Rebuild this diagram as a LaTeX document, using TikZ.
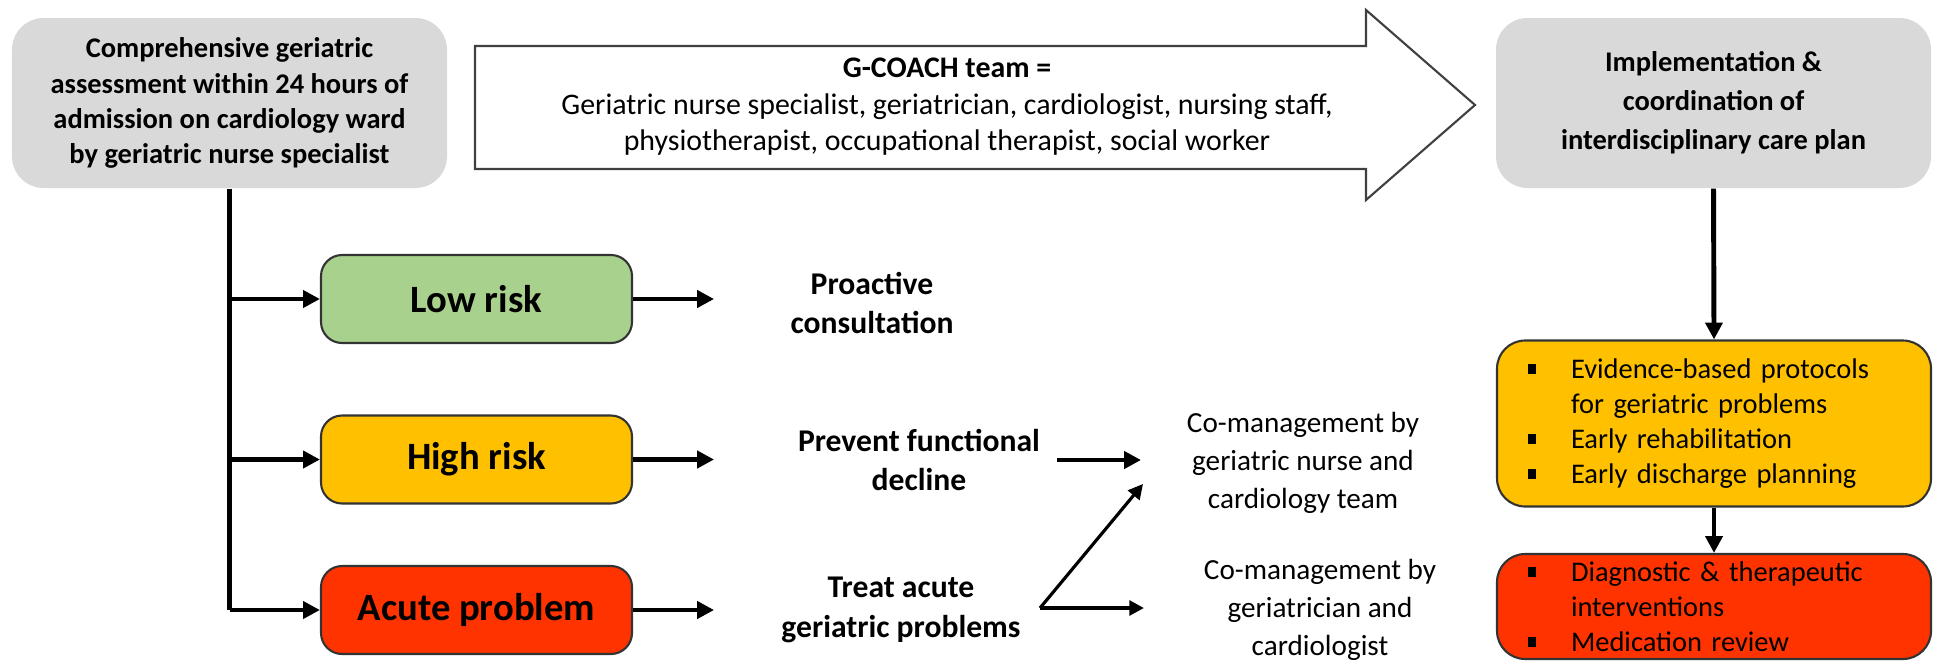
\documentclass[tikz,border=0pt]{standalone}
\usepackage{fontspec}
\setmainfont{Carlito}
\usetikzlibrary{calc,arrows.meta,positioning}

\definecolor{boxgray}{HTML}{D9D9D9}
\definecolor{lowgreen}{HTML}{A9D18E}
\definecolor{highyellow}{HTML}{FFC000}
\definecolor{acutered}{HTML}{FF3300}

\tikzset{
  graybox/.style={fill=boxgray, rounded corners=9pt, minimum width=4.35cm, minimum height=1.70cm, align=center},
  riskbox/.style={draw=black!80, line width=0.6pt, rounded corners=6pt, minimum width=3.11cm, minimum height=0.88cm, font=\fontsize{11}{13}\selectfont\bfseries},
  goal/.style={align=center, font=\fontsize{9}{11.2}\selectfont\bfseries},
  comgt/.style={align=center, font=\fontsize{8.3}{10.8}\selectfont},
  careplan/.style={draw=black!80, line width=0.6pt, rounded corners=8pt, minimum width=4.34cm, text width=3.72cm, inner xsep=0.31cm, align=left, font=\fontsize{8.1}{10}\selectfont},
  arr/.style={line width=1.4pt, -{Triangle[length=4.8pt,width=4.8pt]}},
  forkarr/.style={line width=0.9pt, -{Triangle[length=4.2pt,width=4.2pt]}}
}
\newcommand{\sqbullet}{\makebox[0.43cm][l]{\raisebox{1.3pt}{\rule{2.2pt}{2.8pt}}}}

\begin{document}
\begin{tikzpicture}
\path[use as bounding box, clip] (0,0) rectangle (19.35,-6.61);

% assessment and care plan
\node[graybox, font=\fontsize{8.1}{10}\selectfont\bfseries] (assess) at (2.295,-1.03)
  {Comprehensive geriatric\\assessment within 24 hours of\\admission on cardiology ward\\by geriatric nurse specialist};
\node[graybox, font=\fontsize{8.1}{11.1}\selectfont\bfseries] (plan) at (17.135,-1.03)
  {Implementation \&\\coordination of\\interdisciplinary care plan};

% team arrow
\draw[draw=black!75, line width=0.6pt, fill=white] (4.75,-0.46) -- (13.66,-0.46) -- (13.66,-0.10)
  -- (14.75,-1.05) -- (13.66,-2.00) -- (13.66,-1.69) -- (4.75,-1.69) -- cycle;
\node[align=center, font=\fontsize{8.5}{10.4}\selectfont] (team) at (9.47,-1.07)
  {\textbf{G-COACH team =}\\Geriatric nurse specialist, geriatrician, cardiologist, nursing staff,\\physiotherapist, occupational therapist, social worker};

% risk groups
\node[riskbox, fill=lowgreen] (low) at (4.765,-2.99) {Low risk};
\node[riskbox, fill=highyellow] (high) at (4.765,-4.595) {High risk};
\node[riskbox, fill=acutered] (acute) at (4.765,-6.10) {Acute problem};

\draw[line width=1.4pt] (assess.south) -- (assess.south |- acute.west);
\foreach \r in {low,high,acute}{
  \draw[arr] (assess.south |- \r.west) -- (\r.west);
  \draw[arr] (\r.east) -- ++(0.81,0);
}

\node[goal] (proact) at (8.72,-3.03) {Proactive\\consultation};
\node[goal] (prevent) at (9.19,-4.60) {Prevent functional\\decline};
\node[goal] (treat) at (9.01,-6.10) {Treat acute\\geriatric problems};

% co-management
\node[comgt] (conurse) at (13.03,-4.63) {Co-management by\\geriatric nurse and\\cardiology team};
\node[comgt] (coger) at (13.20,-6.10) {Co-management by\\geriatrician and\\cardiologist};

\coordinate (fork) at (10.40,-6.08);
\coordinate (tonurse) at (11.41,-4.60);
\coordinate (upnurse) at (11.43,-4.84);
\coordinate (toger) at (11.44,-6.08);
\draw[arr] (10.57,-4.60) -- (tonurse);
\draw[forkarr] (fork) -- (upnurse);
\draw[forkarr, line width=1.2pt] (fork) -- (toger);

% interventions
\node[careplan, fill=highyellow, minimum height=1.66cm] (care) at (17.14,-4.235)
  {\sqbullet Evidence-based protocols\\\hspace*{0.43cm}for geriatric problems\\\sqbullet Early rehabilitation\\\sqbullet Early discharge planning};
\node[careplan, fill=acutered, minimum height=1.05cm, inner ysep=1pt] (review) at (17.14,-6.065)
  {\sqbullet Diagnostic \& therapeutic\\\hspace*{0.43cm}interventions\\\sqbullet Medication review};

\draw[arr] (plan.south) -- (care.north);
\draw[arr] (care.south) -- (review.north);
\end{tikzpicture}
\end{document}
